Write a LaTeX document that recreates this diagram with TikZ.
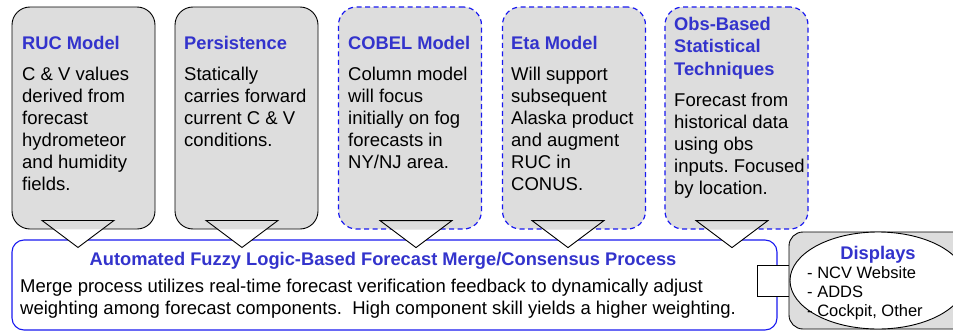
\documentclass[tikz,border=0pt]{standalone}
\usepackage{fontspec}
\setmainfont{Liberation Sans}
\usepackage{xcolor}
\usetikzlibrary{positioning,shapes,calc}
\definecolor{titleblue}{RGB}{51,51,204}
\definecolor{edgeblue}{RGB}{25,25,240}
\definecolor{boxgray}{RGB}{221,221,221}
\frenchspacing

\begin{document}
\begin{tikzpicture}[x = 1pt, y = -1pt,
  model/.style = {draw, fill=boxgray, rounded corners=18pt, minimum width=143pt, minimum height=222pt, inner sep=0pt, line width=0.9pt},
  planned/.style = {model, draw=edgeblue, dash pattern=on 5pt off 3.5pt, line width=1.2pt},
  head/.style = {font=\fontsize{18.3}{22.5}\selectfont\bfseries, text=titleblue, inner sep=0pt, align=left},
  body/.style = {font=\fontsize{18.5}{22}\selectfont, inner sep=0pt, align=left},
  item/.style = {font=\fontsize{16.5}{19}\selectfont, inner sep=0pt, align=left}]
\useasboundingbox (0,0) rectangle (953,332);

% merge box
\node[draw=edgeblue, rounded corners=12pt, minimum width=765pt, minimum height=90pt, line width=1.1pt] (merge) at (394.5,285) {};
\node[head, anchor=north] (mergehead) at (383,252) {Automated Fuzzy Logic-Based Forecast Merge/Consensus Process};
\node[body, anchor=north west] (mergetext) at (20,279) {Merge process utilizes real-time forecast verification feedback to dynamically adjust\\weighting among forecast components.\ \ High component skill yields a higher weighting.};

% forecast sources
\node[model] (ruc) at (83.5,118) {};
\node[model] (pers) at (246.5,118) {};
\node[planned] (cobel) at (410,118) {};
\node[planned] (eta) at (574,118) {};
\node[planned] (obs) at (736.5,118) {};

\node[head, anchor=north west] (ruchead) at (22,36) {RUC Model};
\node[body, anchor=north west] (ructext) at (22,67) {C \& V values\\derived from\\forecast\\hydrometeor\\and humidity\\fields.};
\node[head, anchor=north west] (pershead) at (184,36) {Persistence};
\node[body, anchor=north west] (perstext) at (184,67) {Statically\\carries forward\\current C \& V\\conditions.};
\node[head, anchor=north west] (cobelhead) at (348,36) {COBEL Model};
\node[body, anchor=north west] (cobeltext) at (348,67) {Column model\\will focus\\initially on fog\\forecasts in\\NY/NJ area.};
\node[head, anchor=north west] (etahead) at (511,36) {Eta Model};
\node[body, anchor=north west] (etatext) at (511,67) {Will support\\subsequent\\Alaska product\\and augment\\RUC in\\CONUS.};
\node[head, anchor=north west] (obshead) at (674,17) {Obs-Based\\Statistical\\Techniques};
\node[body, anchor=north west] (obstext) at (674,93) {Forecast from\\historical data\\using obs\\inputs. Focused\\by location.};

% pointers into the merge box
\coordinate (ructip) at ($(ruc.south)+(-5.5,18)$);
\coordinate (perstip) at ($(pers.south)+(-4.5,18)$);
\coordinate (cobeltip) at ($(cobel.south)+(6,18)$);
\coordinate (etatip) at ($(eta.south)+(-6,18)$);
\coordinate (obstip) at ($(obs.south)+(-4.5,18)$);
\foreach \t in {ructip, perstip, cobeltip, etatip, obstip} {
  \fill[white] ($(\t)+(-36,-27)$) -- ($(\t)+(36,-27)$) -- (\t) -- cycle;
  \fill[boxgray] ($(\t)+(-36,-27)$) -- ($(\t)+(36,-27)$) -- ($(\t)+(24,-18)$) -- ($(\t)+(-24,-18)$) -- cycle;
  \draw[line width=0.9pt] ($(\t)+(-36,-27)$) -- ($(\t)+(36,-27)$) -- (\t) -- cycle;
}

% displays
\node[draw, fill=white, minimum width=36pt, minimum height=31pt, inner sep=0pt, line width=0.9pt] (port) at (775,280.5) {};
\node[draw, fill=boxgray, rounded corners=14pt, minimum width=180pt, minimum height=97pt, line width=0.9pt] (dispbox) at (879,280.5) {};
\node[draw, fill=white, ellipse, minimum width=176pt, minimum height=97pt, inner sep=0pt, line width=0.9pt] (displays) at (878,280.5) {};
\node[head, anchor=north] (disphead) at (878,246) {Displays};
\node[item, anchor=north west] (displist) at (807,266) {- NCV Website\\- ADDS\\- Cockpit, Other};

\end{tikzpicture}
\end{document}
